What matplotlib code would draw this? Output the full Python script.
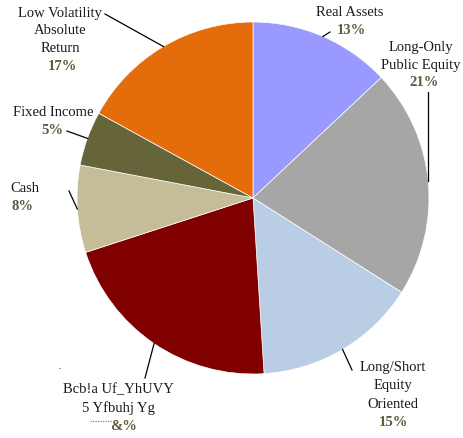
import numpy as np
import matplotlib
matplotlib.use("Agg")
import matplotlib.pyplot as plt

# valores (sentido horario desde arriba)
categorias = [
    "Real Assets",
    "Long-Only\nPublic Equity",
    "Long/Short\nEquity\nOriented",
    "Bcb!a Uf_YhUVY\n5 Yfbuhj Yg",
    "Cash",
    "Fixed Income",
    "Low Volatility\nAbsolute\nReturn",
]
valores = [13, 21, 15, 21, 8, 5, 17]
etiquetas_pct = ["13%", "21%", "15%", "&%", "8%", "5%", "17%"]
colores = ["#9999FF", "#A6A6A6", "#B9CDE5", "#800000", "#C4BD97", "#66653A", "#E46C0A"]

W, H = 464, 438
CX, CY, R = 253, 198, 176  # centro y radio en pixeles


def px(x, y):
    """pixeles (desde arriba-izquierda) -> coordenadas de datos"""
    return (x - CX) / R, (CY - y) / R


fig = plt.figure(figsize=(W / 100, H / 100), dpi=100)
ax = fig.add_axes([(CX - R) / W, (H - CY - R) / H, 2 * R / W, 2 * R / H])
ax.axis("off")

wedges, _ = ax.pie(valores, colors=colores, startangle=90, counterclock=False,
                   radius=1, wedgeprops=dict(edgecolor="white", linewidth=0.5))
ax.set_xlim(-1, 1)
ax.set_ylim(-1, 1)
ax.set_aspect("auto")

fuente = "Liberation Serif"
color_pct = "#5E5A3A"
fs = 10.5

# (centro nombre, centro pct, extremo del conector) en pixeles
layout = [
    ((350, 13), (351, 30), (330, 32)),
    ((421, 56), (424, 82), None),
    ((393, 386), (393, 422), (352, 370)),
    ((118, 399), (124, 427), (145, 378)),
    ((25, 189), (22, 207), (69, 191)),
    ((53, 113), (52, 131), (67, 131)),
    ((60, 31), (62, 67), (105, 14)),
]

for w, nombre, pct, (pn, pp, fin) in zip(wedges, categorias, etiquetas_pct, layout):
    ax.text(*px(*pn), nombre, ha="center", va="center", fontsize=fs,
            family=fuente, color="#1A1A1A", linespacing=1.5)
    ax.text(*px(*pp), pct, ha="center", va="center", fontsize=fs,
            family=fuente, color=color_pct, fontweight="bold")
    ang = np.deg2rad((w.theta1 + w.theta2) / 2)
    x0, y0 = np.cos(ang), np.sin(ang)
    if fin is None:
        # conector vertical hacia arriba (Long-Only)
        x1, y1 = x0, px(0, 92)[1]
    else:
        x1, y1 = px(*fin)
    ax.plot([x0, x1], [y0, y1], color="black", linewidth=0.9, clip_on=False)

# linea punteada junto al porcentaje ilegible
ax.plot([px(90, 0)[0], px(112, 0)[0]], [px(0, 421)[1]] * 2, color="#8A8560",
        linewidth=0.9, linestyle=(0, (1, 1)), clip_on=False)
ax.text(*px(60, 366), ".", ha="center", va="center", fontsize=8, color="#333333")

fig.savefig("out.png", dpi=100)
